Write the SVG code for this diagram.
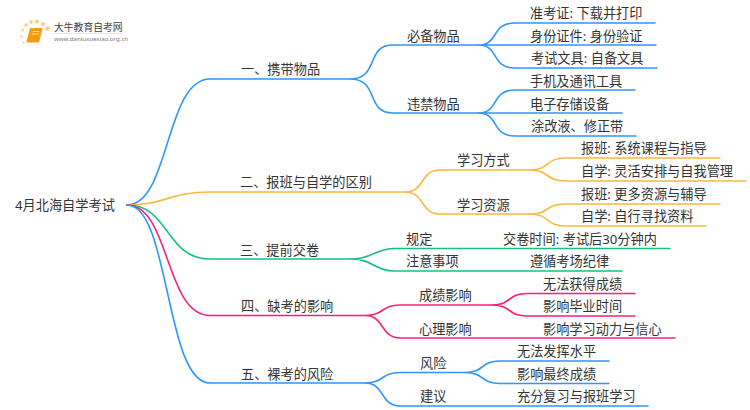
<svg xmlns="http://www.w3.org/2000/svg" width="750" height="410" viewBox="0 0 750 410">
<style>
text{font-family:"Noto Sans","Noto Sans CJK SC",sans-serif;font-size:13.2px;fill:#333}
path{fill:none;stroke-width:1.6;stroke-linecap:round}
.b{stroke:#2f95ff}.o{stroke:#fdb73e}.g{stroke:#18c07f}.r{stroke:#fb1f7c}
</style>
<rect width="750" height="410" fill="#fff"/>
<g id="logo">
<g fill="#fbd27a"><circle cx="26" cy="25" r="1.800"/><circle cx="31" cy="22" r="1.900"/><circle cx="37" cy="21.500" r="2.100"/><circle cx="43" cy="24" r="2.100"/><circle cx="47.500" cy="28.500" r="2.300"/><circle cx="22.500" cy="30" r="1.400"/><circle cx="21.500" cy="36.500" r="1.200"/><circle cx="23.500" cy="42.500" r="1"/></g>
<path d="M30.500 28.500h11.500l-3.500 13.500h-11.500z" style="fill:#f79a12;stroke:#f7a01c;stroke-width:1.200;stroke-linejoin:round"/>
<path d="M27.500 42.500h11" style="stroke:#fcd08a;stroke-width:1"/>
<path d="M33 31.500h6M32.500 34h6" style="stroke:#ffe3ae;stroke-width:1"/>
<text x="54" y="31" style="font-size:9.800px;fill:#444">大牛教育自考网</text>
<path d="M54 33.500h68" style="stroke:#ddd;stroke-width:.7"/>
<text x="54" y="41" style="font-size:6.100px;fill:#777">www.daniuxuexiao.org.cn</text>
</g>
<g id="connectors">
<path class="b" d="M127 205C170 205 165 79 210 79H350"/>
<path class="o" d="M127 205C165 205 170 192 210 192H405"/>
<path class="g" d="M127 205C170 205 165 259 210 259H352"/>
<path class="r" d="M127 205C170 205 165 315.500 210 315.500H365"/>
<path class="b" d="M127 205C170 205 165 383 210 383H365"/>
<path class="b" d="M350 79C380 79 365 45 393 45H478M350 79C380 79 365 113 393 113H478"/>
<path class="b" d="M478 45C500 45 490 23 515 23H655M478 45H656M478 45C500 45 490 68 515 68H657"/>
<path class="b" d="M478 113C500 113 490 90 515 90H635M478 113H622M478 113C500 113 490 136 515 136H636"/>
<path class="o" d="M405 192C425 192 420 170 440 170H530M405 192C425 192 420 214 440 214H530"/>
<path class="o" d="M530 170C550 170 545 158 565 158H720M530 170C550 170 545 181 565 181H746"/>
<path class="o" d="M530 214C550 214 545 204 565 204H720M530 214C550 214 545 226 565 226H706"/>
<path class="g" d="M352 259C372 259 375 248.500 395 248.500H670M352 259C372 259 375 271 395 271H622"/>
<path class="r" d="M365 315.500C385 315.500 380 305 400 305H492M365 315.500C385 315.500 380 338 400 338H675"/>
<path class="r" d="M492 305C512 305 507 293.500 527 293.500H635M492 305C512 305 507 316 527 316H635"/>
<path class="b" d="M365 383C385 383 380 372.500 400 372.500H465M365 383C385 383 380 406 400 406H648"/>
<path class="b" d="M465 372.500C485 372.500 480 361 500 361H609M465 372.500C485 372.500 480 383.500 500 383.500H609"/>
</g>
<g id="root"><text x="15" y="210">4月北海自学考试</text></g>
<g id="n1"><text x="241" y="74">一、携带物品</text></g>
<g id="n1a"><text x="407" y="41">必备物品</text></g>
<g id="n1a1"><text x="530" y="18">准考证: 下载并打印</text></g>
<g id="n1a2"><text x="530" y="41">身份证件: 身份验证</text></g>
<g id="n1a3"><text x="531" y="63">考试文具: 自备文具</text></g>
<g id="n1b"><text x="407" y="109">违禁物品</text></g>
<g id="n1b1"><text x="530" y="86">手机及通讯工具</text></g>
<g id="n1b2"><text x="530" y="109">电子存储设备</text></g>
<g id="n1b3"><text x="531" y="131">涂改液、修正带</text></g>
<g id="n2"><text x="240" y="187">二、报班与自学的区别</text></g>
<g id="n2a"><text x="457" y="165">学习方式</text></g>
<g id="n2a1"><text x="581" y="153">报班: 系统课程与指导</text></g>
<g id="n2a2"><text x="581" y="176">自学: 灵活安排与自我管理</text></g>
<g id="n2b"><text x="457" y="210">学习资源</text></g>
<g id="n2b1"><text x="581" y="199">报班: 更多资源与辅导</text></g>
<g id="n2b2"><text x="581" y="221">自学: 自行寻找资料</text></g>
<g id="n3"><text x="240" y="255">三、提前交卷</text></g>
<g id="n3a"><text x="406" y="244">规定</text></g>
<g id="n3a1"><text x="503" y="244">交卷时间: 考试后30分钟内</text></g>
<g id="n3b"><text x="406" y="266">注意事项</text></g>
<g id="n3b1"><text x="530" y="266">遵循考场纪律</text></g>
<g id="n4"><text x="241" y="311">四、缺考的影响</text></g>
<g id="n4a"><text x="419" y="300">成绩影响</text></g>
<g id="n4a1"><text x="543" y="289">无法获得成绩</text></g>
<g id="n4a2"><text x="543" y="311">影响毕业时间</text></g>
<g id="n4b"><text x="419" y="334">心理影响</text></g>
<g id="n4b1"><text x="543" y="334">影响学习动力与信心</text></g>
<g id="n5"><text x="241" y="379">五、裸考的风险</text></g>
<g id="n5a"><text x="420" y="368">风险</text></g>
<g id="n5a1"><text x="517" y="356">无法发挥水平</text></g>
<g id="n5a2"><text x="517" y="379">影响最终成绩</text></g>
<g id="n5b"><text x="420" y="401">建议</text></g>
<g id="n5b1"><text x="517" y="401">充分复习与报班学习</text></g>
</svg>
